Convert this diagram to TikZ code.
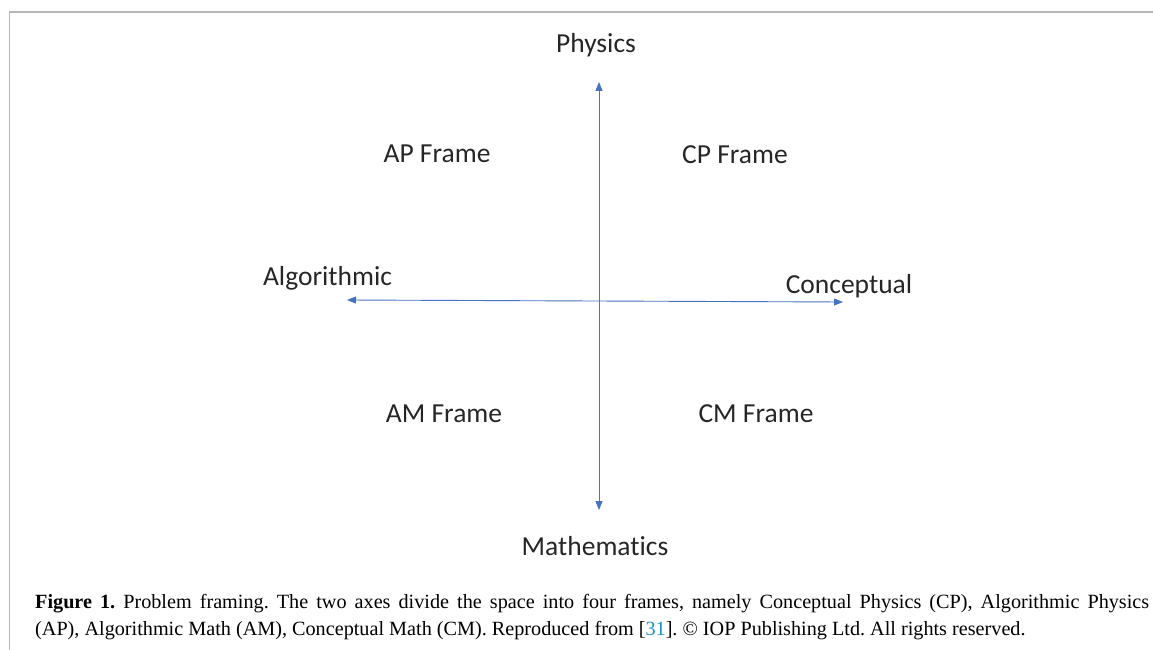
\documentclass[tikz,border=0pt]{standalone}
\usepackage{fontspec}
\setmainfont[Ligatures=NoCommon]{Carlito}
\newfontfamily\capfont{Liberation Serif}
\usetikzlibrary{arrows.meta}
\definecolor{axisblue}{HTML}{4472C4}
\definecolor{framegray}{HTML}{B8B8B8}
\definecolor{refblue}{HTML}{1A8FD0}
\tikzset{
  axis/.style={draw=axisblue, line width=0.9pt, {Triangle[length=9pt,width=7pt]}-{Triangle[length=9pt,width=7pt]}},
  lbl/.style={anchor=base, inner sep=0pt, font=\fontsize{27.5}{32}\selectfont, text=black!85},
  capline/.style={anchor=base west, inner sep=0pt, font=\capfont\fontsize{20.2}{24}\selectfont\frenchspacing}
}
\begin{document}
\begin{tikzpicture}[x=1pt,y=-1pt]
\useasboundingbox (0,0) rectangle (1153,650);
% frame
\draw[framegray, line width=1.4pt] (9.5,650) -- (9.5,12) -- (1153,12);
% axes end points
\coordinate (ptop) at (599,82);
\coordinate (pbot) at (599,510);
\coordinate (pleft) at (347,300);
\coordinate (pright) at (843,302);
\draw[axis] (pbot) -- (ptop);
\draw[axis] (pleft) -- (pright);
% labels
\node[lbl] (phys) at (596,53) {Physics};
\node[lbl] (math) at (595,555) {Mathematics};
\node[lbl] (algo) at (327.5,285) {Algorithmic};
\node[lbl] (conc) at (849,293) {Conceptual};
\node[lbl] (ap) at (437,162) {AP Frame};
\node[lbl] (cp) at (735,163) {CP Frame};
\node[lbl] (am) at (444,422) {AM Frame};
\node[lbl] (cm) at (756,422) {CM Frame};
% caption
\node[capline] (cap1) at (35,608) {\hbox to 1114pt{\textbf{Figure 1.} Problem framing. The two axes divide the space into four frames, namely Conceptual Physics (CP), Algorithmic Physics}};
\node[capline] (cap2) at (35,635) {(AP), Algorithmic Math (AM), Conceptual Math (CM). Reproduced from [{\color{refblue}31}]. © IOP Publishing Ltd. All rights reserved.};
\end{tikzpicture}
\end{document}
